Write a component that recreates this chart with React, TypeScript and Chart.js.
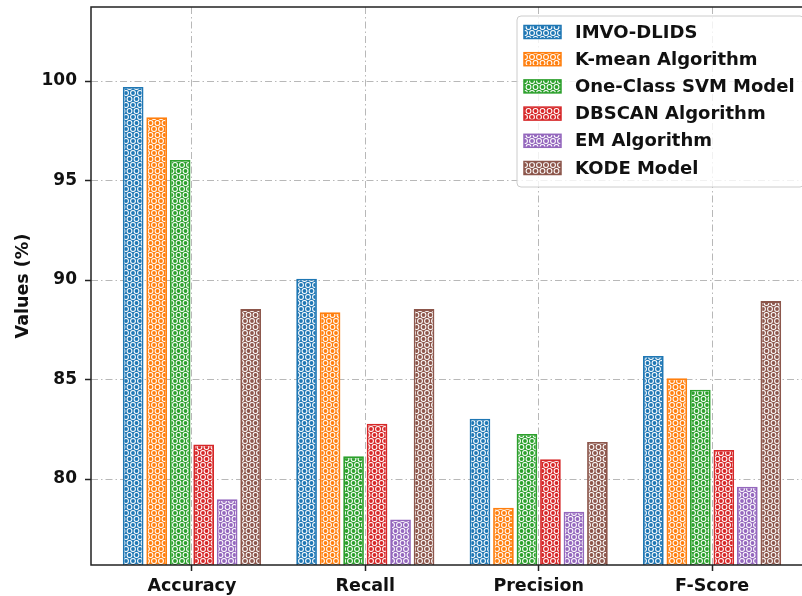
import React, { useEffect, useRef } from 'react';
import { Chart, registerables } from 'chart.js';

Chart.register(...registerables);

const categories = ['Accuracy', 'Recall', 'Precision', 'F-Score'];
const seriesNames = [
  'IMVO-DLIDS',
  'K-mean Algorithm',
  'One-Class SVM Model',
  'DBSCAN Algorithm',
  'EM Algorithm',
  'KODE Model',
];
const imvoDlids = [99.7, 90.07, 83.03, 86.18];
const kMean = [98.18, 88.38, 78.56, 85.06];
const oneClassSvm = [96.03, 81.14, 82.26, 84.49];
const dbscan = [81.74, 82.78, 80.99, 81.46];
const emAlgorithm = [78.98, 77.97, 78.36, 79.61];
const kodeModel = [88.54, 88.54, 81.86, 88.94];
const seriesValues = [imvoDlids, kMean, oneClassSvm, dbscan, emAlgorithm, kodeModel];
const yTicks = [80, 85, 90, 95, 100];
const colors = ['#1f77b4', '#ff7f0e', '#2ca02c', '#d62728', '#9467bd', '#8c564b'];

const Y_MIN = 75.68;
const Y_MAX = 103.72;
const X_MIN = -0.582;
const X_MAX = categories.length - 1 + 0.582;

const FONT = '"DejaVu Sans", "Liberation Sans", sans-serif';

function makePattern(color: string): CanvasPattern | string {
  const tile = document.createElement('canvas');
  tile.width = 7;
  tile.height = 12;
  const c = tile.getContext('2d');
  if (!c) return color;
  c.fillStyle = color;
  c.fillRect(0, 0, 7, 12);
  const centers = [
    [3.5, 3],
    [0, 9],
    [7, 9],
  ];
  c.fillStyle = '#ffffff';
  for (const [x, y] of centers) {
    c.beginPath();
    c.arc(x, y, 2.95, 0, Math.PI * 2);
    c.fill();
  }
  c.fillStyle = color;
  for (const [x, y] of centers) {
    c.beginPath();
    c.arc(x, y, 1.9, 0, Math.PI * 2);
    c.fill();
  }
  const p = c.createPattern(tile, 'repeat');
  return p || color;
}

export default function App() {
  const ref = useRef<HTMLCanvasElement | null>(null);

  useEffect(() => {
    document.body.style.overflow = 'hidden';
    const canvas = ref.current;
    if (!canvas) return;
    const patterns = colors.map((c) => makePattern(c));

    const framePlugin = {
      id: 'frame',
      afterDatasetsDraw(chart: any) {
        const { ctx, chartArea } = chart;
        ctx.save();
        ctx.strokeStyle = '#222222';
        ctx.lineWidth = 1.5;
        ctx.strokeRect(chartArea.left, chartArea.top, chartArea.right - chartArea.left, chartArea.bottom - chartArea.top);
        ctx.restore();
      },
    };

    const legendPlugin = {
      id: 'innerLegend',
      afterDraw(chart: any) {
        const { ctx, chartArea } = chart;
        const right = chartArea.right - 9;
        const top = chartArea.top + 9;
        const left = 517;
        const rowH = 27.2;
        const height = 171;
        ctx.save();
        ctx.beginPath();
        const r = 4;
        const w = right - left;
        ctx.moveTo(left + r, top);
        ctx.lineTo(left + w - r, top);
        ctx.arcTo(left + w, top, left + w, top + r, r);
        ctx.lineTo(left + w, top + height - r);
        ctx.arcTo(left + w, top + height, left + w - r, top + height, r);
        ctx.lineTo(left + r, top + height);
        ctx.arcTo(left, top + height, left, top + height - r, r);
        ctx.lineTo(left, top + r);
        ctx.arcTo(left, top, left + r, top, r);
        ctx.closePath();
        ctx.fillStyle = 'rgba(255,255,255,0.8)';
        ctx.fill();
        ctx.strokeStyle = '#cccccc';
        ctx.lineWidth = 1;
        ctx.stroke();

        seriesNames.forEach((name, i) => {
          const cy = top + 16 + i * rowH;
          ctx.fillStyle = patterns[i];
          ctx.fillRect(left + 7, cy - 6.5, 37, 13);
          ctx.strokeStyle = colors[i];
          ctx.lineWidth = 1.5;
          ctx.strokeRect(left + 7, cy - 6.5, 37, 13);
          ctx.fillStyle = '#111111';
          ctx.font = `bold 18px ${FONT}`;
          ctx.textBaseline = 'middle';
          ctx.textAlign = 'left';
          ctx.fillText(name, left + 58, cy + 1);
        });
        ctx.restore();
      },
    };

    const chart = new Chart(canvas, {
      type: 'bar',
      data: {
        datasets: seriesNames.map((name, i) => ({
          label: name,
          data: seriesValues[i].map((v, j) => ({ x: j, y: v })),
          backgroundColor: patterns[i],
          borderColor: colors[i],
          borderWidth: 1.8,
          barPercentage: 0.88,
          categoryPercentage: 0.813,
        })),
      },
      options: {
        animation: false,
        responsive: false,
        devicePixelRatio: 1,
        layout: { padding: { left: 0, right: 7, top: 7, bottom: 0 } },
        plugins: {
          legend: { display: false },
          tooltip: { enabled: false },
        },
        scales: {
          x: {
            type: 'linear',
            min: X_MIN,
            max: X_MAX,
            offset: false,
            afterBuildTicks: (scale: any) => {
              scale.ticks = categories.map((_, i) => ({ value: i }));
            },
            afterFit: (scale: any) => {
              scale.height = 31;
              scale.paddingLeft = 0;
              scale.paddingRight = 0;
            },
            ticks: {
              autoSkip: false,
              maxRotation: 0,
              padding: 5,
              color: '#111111',
              font: { family: FONT, size: 17.5, weight: 'bold' },
              callback: (v: any) => categories[Math.round(Number(v))] ?? '',
            },
            grid: {
              offset: false,
              color: '#b8b8b8',
              lineWidth: 1,
              tickLength: 6,
              tickColor: '#222222',
              tickWidth: 1.5,
              drawOnChartArea: true,
            },
            border: { display: false, dash: [7, 3, 1.5, 3] },
          },
          y: {
            type: 'linear',
            min: Y_MIN,
            max: Y_MAX,
            afterBuildTicks: (scale: any) => {
              scale.ticks = yTicks.map((v) => ({ value: v }));
            },
            afterFit: (scale: any) => {
              scale.width = 91;
              scale.paddingTop = 0;
              scale.paddingBottom = 0;
            },
            ticks: {
              padding: 8,
              color: '#111111',
              font: { family: FONT, size: 17, weight: 'bold' },
              callback: (v: any) => String(v),
            },
            grid: {
              color: '#b8b8b8',
              lineWidth: 1,
              tickLength: 6,
              tickColor: '#222222',
              tickWidth: 1.5,
            },
            border: { display: false, dash: [7, 3, 1.5, 3] },
            title: {
              display: true,
              text: 'Values (%)',
              color: '#111111',
              font: { family: FONT, size: 17.5, weight: 'bold' },
              padding: { top: 13, bottom: 0 },
            },
          },
        },
      },
      plugins: [framePlugin, legendPlugin],
    });

    return () => {
      chart.destroy();
    };
  }, []);

  return (
    <div style={{ position: 'absolute', left: 0, top: 0, width: 820, height: 596, background: '#ffffff' }}>
      <canvas ref={ref} width={820} height={596} style={{ display: 'block' }} />
    </div>
  );
}
